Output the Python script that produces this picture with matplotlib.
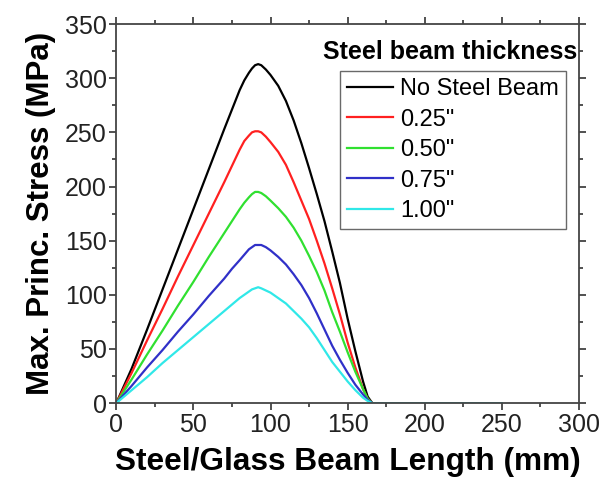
import numpy as np
import matplotlib.pyplot as plt
from matplotlib.ticker import MultipleLocator

plt.rcParams['font.family'] = ['Liberation Sans', 'DejaVu Sans']

# position along the beam (mm)
length = [0, 10, 20, 30, 40, 50, 60, 70, 75, 80, 83, 86, 88, 90, 92, 94, 97, 100,
          105, 110, 115, 120, 125, 130, 135, 140, 145, 150, 155, 160, 163, 166, 200, 250]

# max principal stress (MPa) for each steel beam thickness
no_steel = [0, 32, 68, 105, 142, 179, 216, 253, 271, 289, 298, 305, 309, 312, 313, 312, 308, 303,
            293, 279, 261, 240, 217, 193, 168, 140, 111, 78, 48, 20, 6, 0, 0, 0]
t025 = [0, 28, 58, 87, 117, 146, 175, 204, 219, 234, 242, 247, 250, 251, 251, 250, 246, 241,
        232, 220, 204, 187, 170, 150, 129, 106, 82, 56, 33, 13, 4, 0, 0, 0]
t050 = [0, 22, 45, 67, 90, 112, 135, 157, 168, 179, 185, 190, 193, 195, 195, 194, 191, 187,
        180, 172, 162, 150, 136, 121, 104, 84, 66, 47, 29, 13, 4, 0, 0, 0]
t075 = [0, 16, 33, 49, 66, 82, 99, 115, 124, 132, 137, 142, 144, 146, 146, 146, 144, 141,
        135, 128, 119, 109, 97, 83, 68, 53, 40, 28, 17, 8, 3, 0, 0, 0]
t100 = [0, 12, 24, 37, 49, 61, 73, 85, 91, 97, 100, 103, 105, 106, 107, 106, 104, 102,
        97, 92, 85, 78, 70, 60, 49, 38, 29, 20, 12, 5, 2, 0, 0, 0]

series = [
    ('No Steel Beam', no_steel, '#000000'),
    ('0.25"', t025, '#ff2020'),
    ('0.50"', t050, '#30e030'),
    ('0.75"', t075, '#3030c8'),
    ('1.00"', t100, '#30e8e8'),
]

fig = plt.figure(figsize=(6.12, 4.91), dpi=100)
ax = fig.add_axes([0.19, 0.179, 0.756, 0.772])

for name, vals, col in series:
    ax.plot(length, vals, color=col, lw=1.6, label=name)

ax.set_xlim(0, 300)
ax.set_ylim(0, 350)
ax.xaxis.set_major_locator(MultipleLocator(50))
ax.xaxis.set_minor_locator(MultipleLocator(25))
ax.yaxis.set_major_locator(MultipleLocator(50))
ax.yaxis.set_minor_locator(MultipleLocator(25))
ax.tick_params(which='both', top=True, right=True, direction='out', width=1.2,
               labelsize=18, colors='#333333', labelcolor='#222222', pad=2)
ax.tick_params(which='major', length=5)
ax.tick_params(which='minor', length=3)
for sp in ax.spines.values():
    sp.set_linewidth(1.3)
    sp.set_color('#444444')

ax.set_xlabel('Steel/Glass Beam Length (mm)', fontsize=22.8, fontweight='bold', labelpad=7)
ax.set_ylabel('Max. Princ. Stress (MPa)', fontsize=22.5, fontweight='bold', labelpad=6)

ax.text(0.996, 0.926, 'Steel beam thickness', transform=ax.transAxes,
        ha='right', va='center', fontsize=18, fontweight='bold')
leg = ax.legend(loc='upper left', bbox_to_anchor=(0.484, 0.876), fontsize=17,
                frameon=True, fancybox=False, handlelength=1.95, handletextpad=0.3,
                labelspacing=0.36, borderpad=0.3, borderaxespad=0)
leg.get_frame().set_edgecolor('#444444')
leg.get_frame().set_linewidth(1.0)

fig.savefig('out.png', dpi=100)
